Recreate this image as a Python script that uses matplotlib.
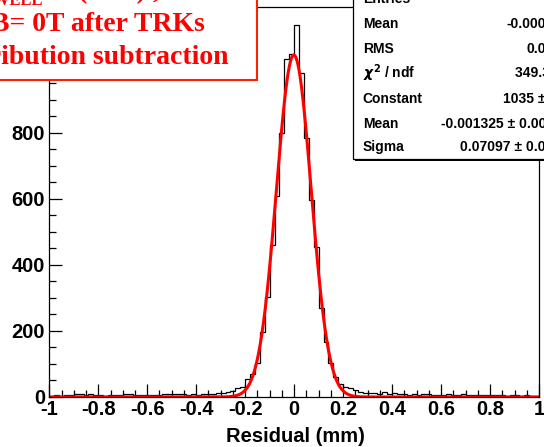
import numpy as np
import matplotlib.pyplot as plt
from matplotlib.patches import Rectangle
from matplotlib.ticker import MultipleLocator

W, H = 544, 447

# histogram: 100 bins of 0.02 mm from -1 to 1
bin_lo, bin_hi = -1.0, 1.0
counts = [3, 5, 4, 6, 5, 8, 9, 7, 8, 5,          # -1.00 .. -0.82
          6, 4, 6, 5, 6, 9, 8, 5, 6, 7,          # -0.80 .. -0.62
          6, 5, 6, 9, 8, 9, 8, 9, 7, 8,          # -0.60 .. -0.42
          7, 8, 9, 10, 12,                       # -0.40 .. -0.32
          13, 16, 17, 27, 30, 53, 70, 104, 198, 302,
          460, 607, 800, 1024, 1038,             # .. -0.02
          1127, 981, 785, 597, 455, 269, 165, 104, 60, 38,   # 0.00 .. 0.18
          31, 26, 21, 16, 13, 13, 11, 9, 15, 9,
          12, 8, 10, 7, 9, 6, 10, 9, 6, 5,
          7, 8, 6, 5, 8, 6, 7, 5, 6, 5,
          7, 6, 5, 4, 6, 5, 4, 7, 4, 3]

# gaussian fit parameters (from the stats box)
fit_const = 1035
fit_mean = -0.001325
fit_sigma = 0.07097

xtick_vals = [-1, -0.8, -0.6, -0.4, -0.2, 0, 0.2, 0.4, 0.6, 0.8, 1]
xtick_labels = ['-1', '-0.8', '-0.6', '-0.4', '-0.2', '0', '0.2', '0.4', '0.6', '0.8', '1']
ytick_vals = [0, 200, 400, 600, 800, 1000]

stat_names = ['Entries', 'Mean', 'RMS', r'$\chi^{2}$ / ndf', 'Constant', 'Mean', 'Sigma']
stat_values = ['9206', '-0.0002567', '0.08349', '349.3 / 46', '1035 \u00b1 13.5',
               '-0.001325 \u00b1 0.000761', '0.07097 \u00b1 0.00065']

plt.rcParams['font.family'] = 'Liberation Sans'
plt.rcParams['font.weight'] = 'bold'


def fx(px):
    return px / W


def fy(py):
    return 1 - py / H


fig = plt.figure(figsize=(W / 100, H / 100), dpi=100)
ax = fig.add_axes([fx(49.3), fy(397), (539 - 49.3) / W, (397 - 6.5) / H])

edges = np.linspace(bin_lo, bin_hi, len(counts) + 1)
ax.stairs(counts, edges, color='black', lw=0.9)

xf = np.linspace(bin_lo, bin_hi, 1500)
ax.plot(xf, fit_const * np.exp(-0.5 * ((xf - fit_mean) / fit_sigma) ** 2), color='red', lw=2.2)

ax.set_xlim(-1, 1)
ax.set_ylim(0, 1182)
ax.set_xticks(xtick_vals)
ax.set_xticklabels(xtick_labels)
ax.set_yticks(ytick_vals)
ax.xaxis.set_minor_locator(MultipleLocator(0.05))
ax.yaxis.set_minor_locator(MultipleLocator(50))
ax.tick_params(which='both', direction='in', top=False, right=False, labelsize=14.5, width=0.9)
ax.tick_params(which='major', length=9.5)
ax.tick_params(which='minor', length=4.8)
ax.tick_params(axis='x', pad=2)
ax.tick_params(axis='y', pad=3)
for s in ax.spines.values():
    s.set_linewidth(0.9)

fig.text(fx(295), fy(437), 'Residual (mm)', ha='center', va='center', fontsize=14.5)

# red title box (cut off by the picture edge)
fig.patches.append(Rectangle((fx(-20), fy(80)), fx(256.7 + 20), 0.3, transform=fig.transFigure,
                             facecolor='white', edgecolor='#ff2000', lw=1.5, zorder=5))
tfont = dict(family='Liberation Serif', weight='bold', color='red', zorder=6)
fig.text(fx(43), fy(5), '\u03bcRWELL', ha='right', va='baseline', fontsize=12, **tfont)
fig.text(fx(160), fy(-2), '(X-Y) ,', ha='right', va='baseline', fontsize=20, **tfont)
fig.text(fx(205), fy(31), 'B= 0T after TRKs', ha='right', va='baseline', fontsize=20, **tfont)
fig.text(fx(229), fy(64), 'contribution subtraction', ha='right', va='baseline', fontsize=20, **tfont)

# stats box with shadow
fig.patches.append(Rectangle((fx(355), fy(161)), 0.5, fy(-20) - fy(161), transform=fig.transFigure,
                             facecolor='black', edgecolor='none', zorder=5))
fig.patches.append(Rectangle((fx(352.7), fy(159)), 0.5, fy(-20) - fy(159), transform=fig.transFigure,
                             facecolor='white', edgecolor='black', lw=0.9, zorder=6))
row_y = [-1, 24.3, 49, 73, 99, 124, 147]
for name, val, yy in zip(stat_names, stat_values, row_y):
    fig.text(fx(362.7), fy(yy), name, ha='left', va='center', fontsize=10, zorder=7)
    fig.text(fx(577), fy(yy), val, ha='right', va='center', fontsize=10, zorder=7)

fig.savefig('out.png', dpi=100)
